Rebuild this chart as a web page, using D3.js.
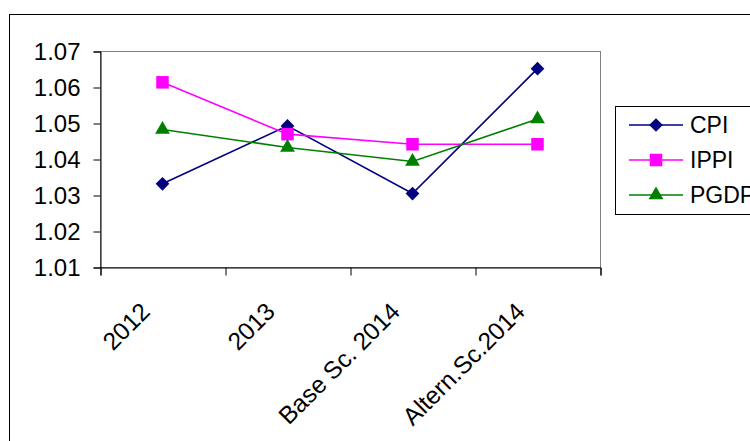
<!DOCTYPE html>
<html>
<head>
<meta charset="utf-8">
<script src="https://cdn.jsdelivr.net/npm/d3@7"></script>
<style>
  body { margin: 0; background: #fff; }
  text { font-family: "Liberation Sans", Arial, sans-serif; fill: #000; }
</style>
</head>
<body>
<svg id="chart" width="750" height="441"></svg>
<script>
const categories = ['2012', '2013', 'Base Sc. 2014', 'Altern.Sc.2014'];
const cpi = [1.0331, 1.0492, 1.0304, 1.0651];
const ippi = [1.0613, 1.0469, 1.0441, 1.0441];
const pgdp = [1.0482, 1.0432, 1.0393, 1.0511];
const yTicks = [1.01, 1.02, 1.03, 1.04, 1.05, 1.06, 1.07];

const series = [
  { name: 'CPI', values: cpi, color: '#000080', symbol: d3.symbolDiamond2, size: 120 },
  { name: 'IPPI', values: ippi, color: '#FF00FF', symbol: d3.symbolSquare2, size: 200 },
  { name: 'PGDP', values: pgdp, color: '#008000', symbol: d3.symbolTriangle, size: 95 }
];

const svg = d3.select('#chart');
const plotLeft = 100, plotRight = 600, plotTop = 51, plotBottom = 267;

// outer chart frame (runs off the right and bottom edges)
svg.append('rect')
  .attr('x', 9.5).attr('y', 14.5)
  .attr('width', 900).attr('height', 600)
  .attr('fill', 'none').attr('stroke', '#000').attr('stroke-width', 1);

const x = d3.scaleBand().domain(categories).range([plotLeft, plotRight]);
const y = d3.scaleLinear().domain([1.01, 1.07]).range([plotBottom, plotTop]);
const edges = d3.scaleLinear().domain([0, categories.length]).range([plotLeft, plotRight]);

// plot area
svg.append('rect')
  .attr('x', plotLeft + 0.5).attr('y', plotTop + 0.5)
  .attr('width', plotRight - plotLeft).attr('height', plotBottom - plotTop)
  .attr('fill', '#fff').attr('stroke', '#808080').attr('stroke-width', 1);

// y axis
const yAxis = svg.append('g')
  .attr('transform', `translate(${plotLeft + 0.5},0.5)`)
  .call(d3.axisLeft(y).tickValues(yTicks).tickSize(7).tickPadding(13).tickFormat(d3.format('.2f')));
yAxis.select('.domain').attr('stroke', '#000');
yAxis.selectAll('.tick line').attr('stroke', '#000');
yAxis.selectAll('.tick text')
  .style('font-size', '24px').attr('font-family', null).attr('fill', '#000');

// x axis, ticks at category boundaries
const xAxis = svg.append('g')
  .attr('transform', `translate(0.5,${plotBottom + 0.5})`)
  .call(d3.axisBottom(edges).ticks(categories.length).tickSize(8).tickFormat(''));
xAxis.select('.domain').attr('stroke', '#000');
xAxis.selectAll('.tick line').attr('stroke', '#000');

svg.append('g').selectAll('text')
  .data(categories)
  .join('text')
  .attr('transform', d => `translate(${x(d) + x.bandwidth() / 2 - 11},313) rotate(-45)`)
  .attr('text-anchor', 'end')
  .style('font-size', '24.5px')
  .text(d => d);

// series
const line = d3.line()
  .x((v, i) => x(categories[i]) + x.bandwidth() / 2)
  .y(v => y(v));

series.forEach(s => {
  svg.append('path')
    .datum(s.values)
    .attr('d', line)
    .attr('fill', 'none')
    .attr('stroke', s.color)
    .attr('stroke-width', 1.6);
  svg.append('g').selectAll('path')
    .data(s.values)
    .join('path')
    .attr('transform', (v, i) => `translate(${x(categories[i]) + x.bandwidth() / 2},${y(v)})`)
    .attr('d', d3.symbol(s.symbol, s.size))
    .attr('fill', s.color);
});

// legend
const legend = svg.append('g').attr('transform', 'translate(615,106)');
legend.append('rect')
  .attr('x', 0.5).attr('y', 0.5)
  .attr('width', 300).attr('height', 108)
  .attr('fill', '#fff').attr('stroke', '#000').attr('stroke-width', 1);

const rows = legend.selectAll('g.row')
  .data(series)
  .join('g')
  .attr('class', 'row')
  .attr('transform', (s, i) => `translate(0,${19 + i * 35})`);
rows.append('line')
  .attr('x1', 14).attr('x2', 68)
  .attr('stroke', s => s.color).attr('stroke-width', 1.6);
rows.append('path')
  .attr('transform', 'translate(41,0)')
  .attr('d', s => d3.symbol(s.symbol, s.size)())
  .attr('fill', s => s.color);
rows.append('text')
  .attr('x', 75).attr('dy', '0.35em')
  .style('font-size', '23px')
  .text(s => s.name);
</script>
</body>
</html>
